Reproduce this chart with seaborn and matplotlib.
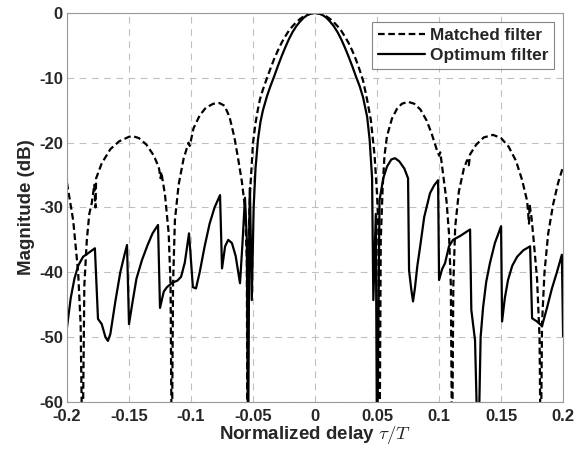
import numpy as np
import pandas as pd
import matplotlib
matplotlib.use("Agg")
import matplotlib.pyplot as plt
import seaborn as sns

# Valores (retardo normalizado, dB)
mf_x = [-0.200, -0.195, -0.191, -0.189, -0.1875, -0.186, -0.184, -0.182, -0.180, -0.178,
        -0.177, -0.1765, -0.172, -0.165, -0.158, -0.150, -0.147, -0.142, -0.136, -0.130,
        -0.126, -0.1245, -0.124, -0.121, -0.118, -0.1165, -0.1155, -0.1145, -0.113, -0.110,
        -0.106, -0.102, -0.101, -0.098, -0.093, -0.088, -0.082, -0.077, -0.073, -0.069,
        -0.065, -0.062, -0.059, -0.0565, -0.055, -0.0545, -0.0535, -0.0525, -0.050, -0.048,
        -0.046, -0.0444, -0.042, -0.0387, -0.036, -0.033, -0.030, -0.027, -0.024, -0.021,
        -0.018, -0.015, -0.012, -0.009, -0.006, -0.003, 0.0,
        0.003, 0.006, 0.009, 0.012, 0.015, 0.018, 0.021, 0.024, 0.027, 0.030,
        0.033, 0.036, 0.0387, 0.042, 0.045, 0.048, 0.050, 0.051, 0.052, 0.053,
        0.0545, 0.056, 0.058, 0.062, 0.066, 0.070,
        0.075, 0.080, 0.085, 0.090, 0.094, 0.098, 0.100, 0.101, 0.103, 0.106,
        0.108, 0.1095, 0.1105, 0.1115, 0.113, 0.116, 0.120, 0.1226, 0.124, 0.125,
        0.130, 0.136, 0.1435, 0.150, 0.156, 0.162, 0.167, 0.171, 0.1725, 0.173,
        0.1745, 0.176, 0.179, 0.181, 0.182, 0.183, 0.185, 0.188, 0.192, 0.196, 0.200]
mf_db = [-26.2, -32.0, -40.0, -48.0, -70.0, -42.0, -35.0, -31.0, -29.3, -26.5,
         -30.0, -25.5, -23.2, -21.0, -19.8, -19.1, -19.0, -19.3, -20.3, -22.0,
         -23.8, -25.5, -24.5, -28.0, -34.0, -42.0, -70.0, -42.0, -32.0, -26.5,
         -22.5, -20.0, -20.5, -17.8, -15.8, -14.6, -14.0, -13.9, -14.3, -16.0,
         -19.2, -22.5, -26.0, -30.0, -38.0, -70.0, -35.0, -28.0, -20.0, -17.0,
         -14.8, -13.3, -11.8, -10.0, -8.6, -7.1, -5.8, -4.6, -3.6, -2.7,
         -2.0, -1.4, -0.9, -0.5, -0.22, -0.06, 0.0,
         -0.06, -0.22, -0.5, -0.9, -1.4, -2.0, -2.7, -3.6, -4.6, -5.8,
         -7.2, -8.8, -10.4, -13.4, -16.5, -22.0, -28.0, -33.0, -70.0, -35.0,
         -27.0, -22.0, -19.0, -16.3, -14.8, -14.0,
         -13.7, -14.0, -14.9, -16.6, -18.6, -21.0, -22.0, -21.5, -24.5, -29.0,
         -34.0, -42.0, -70.0, -42.0, -33.0, -27.5, -24.0, -22.7, -23.5, -21.8,
         -20.3, -19.2, -18.8, -19.3, -20.6, -22.8, -25.8, -29.0, -32.5, -29.5,
         -31.5, -34.5, -41.0, -50.0, -70.0, -48.0, -40.0, -34.0, -29.5, -26.2, -23.7]

of_x = [-0.200, -0.197, -0.194, -0.191, -0.187, -0.1825, -0.1775, -0.175, -0.172, -0.169,
        -0.167, -0.165, -0.161, -0.157, -0.1535, -0.1516, -0.150, -0.1475, -0.144, -0.1395,
        -0.135, -0.131, -0.1266, -0.125, -0.122, -0.1194, -0.115, -0.111, -0.108, -0.105,
        -0.1016, -0.0985, -0.096, -0.093, -0.089, -0.085, -0.081, -0.0766, -0.075, -0.0725,
        -0.070, -0.067, -0.064, -0.0605, -0.0585, -0.0565, -0.055, -0.054, -0.053, -0.0525,
        -0.051, -0.0495, -0.048, -0.046, -0.044, -0.042, -0.0387, -0.036, -0.033, -0.030,
        -0.027, -0.024, -0.021, -0.018, -0.015, -0.012, -0.009, -0.006, -0.003, 0.0,
        0.003, 0.006, 0.009, 0.012, 0.015, 0.018, 0.021, 0.024, 0.027, 0.030,
        0.033, 0.036, 0.0387, 0.042, 0.044, 0.046, 0.047, 0.049, 0.050, 0.052,
        0.055, 0.058, 0.0615, 0.0645,
        0.068, 0.072, 0.075, 0.0758, 0.0775, 0.079, 0.0805, 0.0825, 0.0847, 0.088,
        0.0927, 0.096, 0.0992, 0.100, 0.1025, 0.1048, 0.108, 0.1113, 0.117, 0.125,
        0.126, 0.129, 0.1315, 0.1335, 0.1355, 0.138, 0.141, 0.145, 0.150, 0.1508,
        0.153, 0.1556, 0.159, 0.163, 0.168, 0.1734, 0.175, 0.179, 0.183, 0.187,
        0.191, 0.195, 0.199, 0.200]
of_db = [-48.5, -44.0, -41.0, -39.0, -37.6, -37.0, -36.3, -47.2, -48.0, -50.0,
         -50.6, -49.5, -44.5, -40.0, -37.2, -35.8, -48.0, -45.0, -41.0, -38.1,
         -35.8, -34.0, -32.7, -45.5, -43.0, -42.3, -41.6, -41.3, -40.7, -38.5,
         -34.0, -42.3, -42.5, -40.0, -36.0, -32.5, -30.0, -28.1, -39.4, -36.0,
         -35.0, -35.5, -37.5, -41.7, -35.5, -28.5, -35.0, -70.0, -32.0, -27.0,
         -44.3, -30.0, -24.0, -19.5, -16.8, -15.0, -12.8, -11.3, -9.8, -8.2,
         -6.7, -5.3, -4.0, -2.9, -2.0, -1.3, -0.7, -0.3, -0.08, 0.0,
         -0.08, -0.3, -0.7, -1.3, -2.0, -2.9, -4.0, -5.3, -6.7, -8.2,
         -9.8, -11.3, -13.0, -16.0, -19.5, -25.5, -44.3, -31.0, -70.0, -28.9,
         -25.5, -23.7, -22.6, -22.4,
         -22.9, -24.0, -25.5, -39.7, -42.5, -44.5, -42.5, -39.0, -36.1, -31.5,
         -27.8, -26.6, -25.8, -41.2, -39.5, -38.6, -36.0, -35.0, -34.4, -33.4,
         -45.8, -50.5, -70.0, -50.0, -45.4, -41.5, -38.6, -35.5, -32.9, -47.6,
         -44.0, -41.2, -39.0, -37.6, -36.6, -36.0, -47.1, -47.6, -48.3, -45.5,
         -42.5, -40.0, -37.3, -49.9]

x_ticks = [-0.2, -0.15, -0.1, -0.05, 0, 0.05, 0.1, 0.15, 0.2]
x_tick_labels = ['-0.2', '-0.15', '-0.1', '-0.05', '0', '0.05', '0.1', '0.15', '0.2']
y_ticks = [-60, -50, -40, -30, -20, -10, 0]
y_tick_labels = ['-60', '-50', '-40', '-30', '-20', '-10', '0']

sns.set_style("white")
plt.rcParams['font.family'] = ['Liberation Sans', 'DejaVu Sans']
plt.rcParams['font.weight'] = 'bold'
plt.rcParams['mathtext.fontset'] = 'cm'
plt.rcParams['axes.unicode_minus'] = False

fig = plt.figure(figsize=(5.74, 4.49), dpi=100)
ax = fig.add_axes([0.1167, 0.105, 0.8643, 0.866])

df_mf = pd.DataFrame({'delay': mf_x, 'mag': mf_db})
df_of = pd.DataFrame({'delay': of_x, 'mag': of_db})

sns.lineplot(data=df_mf, x='delay', y='mag', ax=ax, color='black', lw=1.6,
             sort=False, estimator=None, label='Matched filter')
sns.lineplot(data=df_of, x='delay', y='mag', ax=ax, color='black', lw=1.6,
             sort=False, estimator=None, label='Optimum filter')
ax.lines[0].set_dashes((3, 1.6))

ax.set_xlim(-0.2, 0.2)
ax.set_ylim(-60, 0)
ax.set_xticks(x_ticks, labels=x_tick_labels, fontweight='bold', fontsize=12)
ax.set_yticks(y_ticks, labels=y_tick_labels, fontweight='bold', fontsize=12)
ax.grid(True, color='#c0c0c0', linestyle=(0, (6, 5)), linewidth=0.8)
for s in ax.spines.values():
    s.set_color('#999999')
    s.set_linewidth(0.8)
ax.tick_params(axis='both', direction='in', length=3, width=0.8, color='#333333')
ax.tick_params(axis='x', pad=5)
ax.tick_params(axis='y', pad=3)

ax.set_xlabel(r'Normalized delay $\tau/T$', fontsize=13.5, fontweight='bold', labelpad=0)
ax.set_ylabel('Magnitude (dB)', fontsize=13.5, fontweight='bold', labelpad=3)

leg = ax.legend(loc='upper right', frameon=True, fancybox=False,
                handlelength=2.7, borderaxespad=0.5, handletextpad=0.3,
                borderpad=0.35, labelspacing=0.3,
                prop={'weight': 'bold', 'size': 12.4})
leg.get_frame().set_edgecolor('#666666')
leg.get_frame().set_linewidth(0.8)
leg.get_lines()[0].set_dashes((3, 1.6))

fig.savefig('out.png', dpi=100)
